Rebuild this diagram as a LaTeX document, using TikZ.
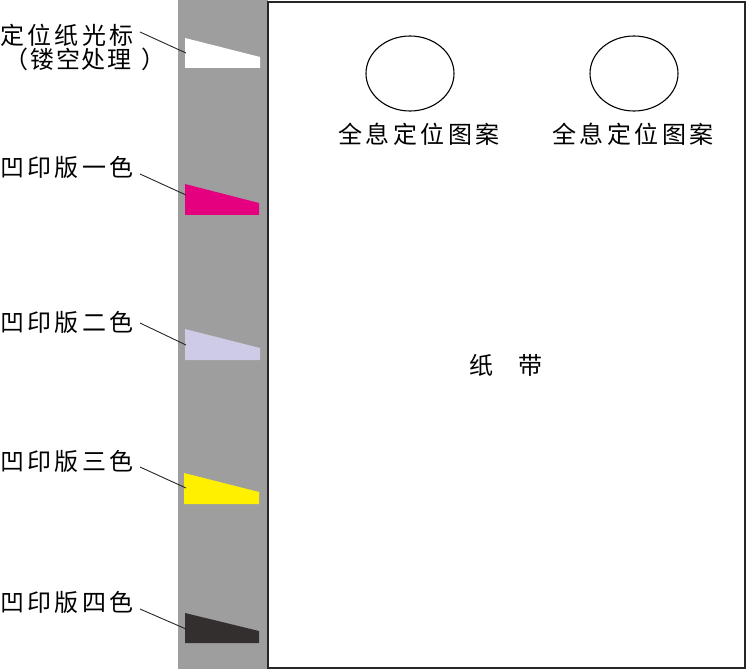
\documentclass[tikz,border=0pt]{standalone}
\usepackage{fontspec}
\newfontfamily\cjk{Noto Sans CJK SC}
\newfontfamily\cjkls[LetterSpace=14]{Noto Sans CJK SC}
\newfontfamily\cjkpar[LetterSpace=8]{Noto Sans CJK SC}
\usetikzlibrary{shapes.geometric}
\definecolor{stripgray}{HTML}{9E9E9E}
\definecolor{mag}{HTML}{E4007F}
\definecolor{lav}{HTML}{CDCBE5}
\definecolor{yel}{HTML}{FFF000}
\definecolor{dk}{HTML}{332F2F}
\begin{document}
\begin{tikzpicture}[x=1pt,y=-1pt,
  lab/.style={anchor=west,inner sep=0pt,font=\cjkls\fontsize{24}{26}\selectfont,text=black},
  holo/.style={ellipse,draw=black,line width=1.1pt,minimum width=88pt,minimum height=75pt,inner sep=0pt},
  leader/.style={draw=black!85,line width=0.9pt}]
\useasboundingbox (0,0) rectangle (747,671);
\fill[white] (0,0) rectangle (747,671);
% gray strip
\fill[stripgray] (178,0) rectangle (268,669);
% paper
\draw[line width=1.6pt,draw=black!85,fill=white] (268,2) rectangle (745,668);
% marks
\fill[white] (185,38) -- (260,57) -- (260,68) -- (185,68) -- cycle;
\fill[mag] (185,184) -- (259,203) -- (259,215) -- (185,215) -- cycle;
\fill[lav] (185,329) -- (260,348) -- (260,360) -- (185,360) -- cycle;
\fill[yel] (184,473) -- (259,492) -- (259,504) -- (184,504) -- cycle;
\fill[dk] (185,613) -- (259,631) -- (259,643) -- (185,643) -- cycle;
\coordinate (m1) at (186,53);
\coordinate (m2) at (186,195);
\coordinate (m3) at (186,345);
\coordinate (m4) at (186,488);
\coordinate (m5) at (186,629);
% labels
\node[lab] (l1) at (0,35) {定位纸光标};
\node[lab,font=\cjkpar\fontsize{24}{26}\selectfont] (l1b) at (4,59) {（镂空处理\hspace{10pt}）};
\node[lab] (l2) at (0,167) {凹印版一色};
\node[lab] (l3) at (0,322) {凹印版二色};
\node[lab] (l4) at (0,461) {凹印版三色};
\node[lab] (l5) at (0,602) {凹印版四色};
\coordinate (s1) at (140,32);
\coordinate (s2) at (140,174);
\coordinate (s3) at (140,323);
\coordinate (s4) at (140,467);
\coordinate (s5) at (140,609);
\draw[leader] (s1) -- (m1);
\draw[leader] (s2) -- (m2);
\draw[leader] (s3) -- (m3);
\draw[leader] (s4) -- (m4);
\draw[leader] (s5) -- (m5);
% holograms
\node[holo] (h1) at (410,73.5) {};
\node[holo] (h2) at (634,73.5) {};
\node[lab,anchor=center] (t1) at (419,134) {全息定位图案};
\node[lab,anchor=center] (t2) at (633,134) {全息定位图案};
\node[anchor=center,inner sep=0pt,font=\cjk\fontsize{24}{26}\selectfont] (pt) at (506,365) {纸\hspace{25pt}带};
\end{tikzpicture}
\end{document}
